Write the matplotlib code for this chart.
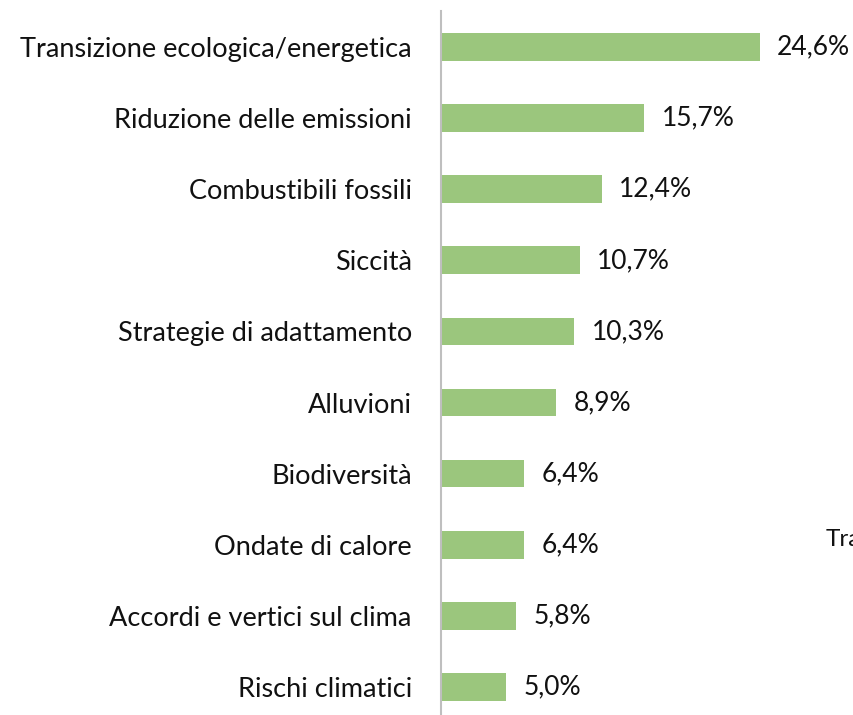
import matplotlib
matplotlib.use("Agg")
import matplotlib.pyplot as plt

categories = [
    "Transizione ecologica/energetica",
    "Riduzione delle emissioni",
    "Combustibili fossili",
    "Siccità",
    "Strategie di adattamento",
    "Alluvioni",
    "Biodiversità",
    "Ondate di calore",
    "Accordi e vertici sul clima",
    "Rischi climatici",
]
values = [24.6, 15.7, 12.4, 10.7, 10.3, 8.9, 6.4, 6.4, 5.8, 5.0]
value_labels = ["24,6%", "15,7%", "12,4%", "10,7%", "10,3%", "8,9%", "6,4%", "6,4%", "5,8%", "5,0%"]

plt.rcParams['font.family'] = ['Lato', 'DejaVu Sans']

W, H = 854, 715
fig = plt.figure(figsize=(W / 100, H / 100), dpi=100)
left_px, right_px = 441, 441 + 30 * 12.95
top_px, bot_px = 11.45, 722.5
ax = fig.add_axes([left_px / W, (H - bot_px) / H, (right_px - left_px) / W, (bot_px - top_px) / H])

y = list(range(len(categories)))
ax.barh(y, values, height=0.39, color="#9BC67D", zorder=2)
ax.set_ylim(len(categories) - 0.5, -0.5)
ax.set_xlim(0, 30)

for yi, v, lab in zip(y, values, value_labels):
    ax.text(v + 1.35, yi, lab, va="center", ha="left", fontsize=19, color="#111111")

ax.set_yticks(y)
ax.set_yticklabels(categories, fontsize=19.5, color="#111111")
ax.tick_params(axis="y", length=0, pad=21)
ax.set_xticks([])
for s in ["top", "right", "bottom"]:
    ax.spines[s].set_visible(False)
ax.spines["left"].set_color("#BFBFBF")
ax.spines["left"].set_linewidth(1.5)

fig.text(826 / W, 1 - 540 / H, "Transizione", fontsize=17.5, va="center", ha="left", color="#111111")

fig.savefig("out.png", dpi=100)
